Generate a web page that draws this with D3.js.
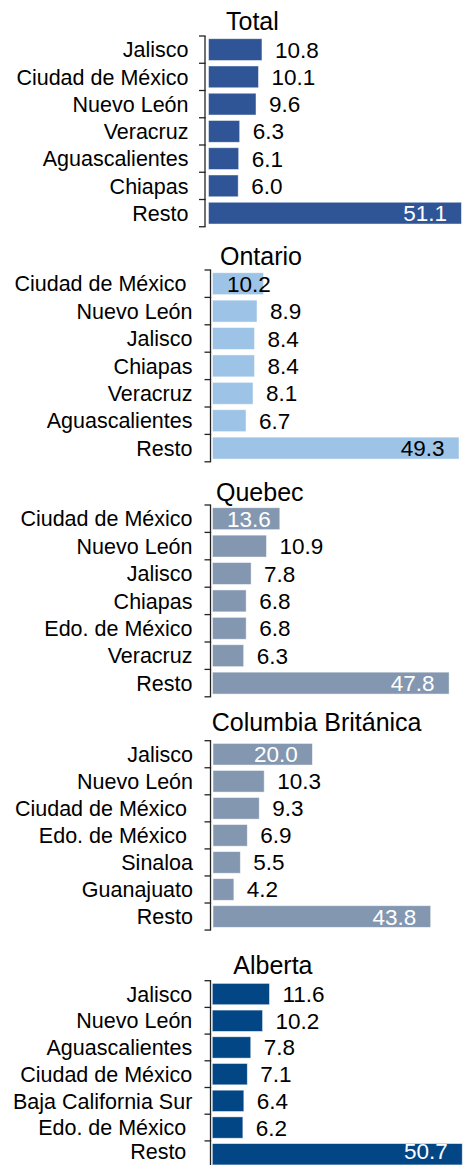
<!DOCTYPE html>
<meta charset="utf-8">
<head>
    <title>Remesas por entidad</title>
</head>
<style>
    body { margin: 0; background: #fff; }
    text { font-family: 'Liberation Sans', Arial, sans-serif; fill: #000; }
    .cat { font-size: 21.5px; text-anchor: end; white-space: pre; }
    .val { font-size: 22.5px; }
    .title { font-size: 25px; }
    .axis line { stroke: #222; stroke-width: 1.3; }
</style>
<body>
<svg id="chart" width="463" height="1165"></svg>
<script src="https://d3js.org/d3.v7.min.js"></script>
<script>
    // data (percent)
    const panelTitles = ["Total", "Ontario", "Quebec", "Columbia Británica", "Alberta"];

    const totalStates = ["Jalisco", "Ciudad de México", "Nuevo León", "Veracruz", "Aguascalientes", "Chiapas", "Resto"];
    const totalValues = [10.8, 10.1, 9.6, 6.3, 6.1, 6.0, 51.1];

    const ontarioStates = ["Ciudad de México ", "Nuevo León", "Jalisco", "Chiapas", "Veracruz", "Aguascalientes", "Resto"];
    const ontarioValues = [10.2, 8.9, 8.4, 8.4, 8.1, 6.7, 49.3];

    const quebecStates = ["Ciudad de México", "Nuevo León", "Jalisco", "Chiapas", "Edo. de México", "Veracruz", "Resto"];
    const quebecValues = [13.6, 10.9, 7.8, 6.8, 6.8, 6.3, 47.8];

    const columbiaStates = ["Jalisco", "Nuevo León", "Ciudad de México ", "Edo. de México ", "Sinaloa", "Guanajuato", "Resto"];
    const columbiaValues = [20.0, 10.3, 9.3, 6.9, 5.5, 4.2, 43.8];

    const albertaStates = ["Jalisco", "Nuevo León", "Aguascalientes", "Ciudad de México", "Baja California Sur", "Edo. de México ", "Resto "];
    const albertaValues = [11.6, 10.2, 7.8, 7.1, 6.4, 6.2, 50.7];

    // which labels sit inside the bar
    const insideLabels = [[6], [0, 6], [0, 6], [0, 6], [6]];

    const statesList = [totalStates, ontarioStates, quebecStates, columbiaStates, albertaStates];
    const valuesList = [totalValues, ontarioValues, quebecValues, columbiaValues, albertaValues];

    // layout of each panel
    const colors = ["#2F5597", "#9DC3E6", "#8497B0", "#8497B0", "#034686"];
    const insideTextColors = ["#fff", "#000", "#fff", "#fff", "#fff"];
    const layout = [
        { top: 36, step: 27.25, axisX: 205, x0: 208.5, k: 4.95, titleX: 226, titleY: 30 },
        { top: 270, step: 27.4, axisX: 210.5, x0: 212.5, k: 5.0, titleX: 220, titleY: 265 },
        { top: 505, step: 27.4, axisX: 210.5, x0: 212.5, k: 4.95, titleX: 216, titleY: 500.5 },
        { top: 740.7, step: 27.05, axisX: 210.5, x0: 213, k: 4.97, titleX: 211.7, titleY: 730.5 },
        { top: 980.7, step: 26.7, axisX: 210.5, x0: 212.3, k: 4.93, titleX: 233.3, titleY: 974 }
    ];

    const chart = d3.select("#chart");
    const chartHeight = +chart.attr("height");
    const fmt = d3.format(".1f");
    const labelGap = 13;
    const insidePad = 14.5;
    // keep the last row's text inside the picture
    const baseline = (v) => Math.min(v, chartHeight - 6);

    panelTitles.forEach((title, p) => {
        const L = layout[p];
        const states = statesList[p];
        const values = valuesList[p];
        const rows = states.map((s, i) => ({ state: s, value: values[i], i: i }));

        const y = d3.scaleBand()
            .domain(states)
            .range([L.top, L.top + states.length * L.step])
            .paddingInner(0.2)
            .paddingOuter(0.1);
        const x = d3.scaleLinear().domain([0, 100]).range([L.x0, L.x0 + 100 * L.k]);

        const g = chart.append("g").attr("class", "panel");

        g.append("text")
            .attr("class", "title")
            .attr("x", L.titleX)
            .attr("y", L.titleY)
            .text(title);

        // bars
        g.selectAll("rect")
            .data(rows)
            .enter()
            .append("rect")
            .attr("x", x(0))
            .attr("y", d => y(d.state))
            .attr("width", d => x(d.value) - x(0))
            .attr("height", y.bandwidth())
            .style("fill", colors[p])
            .style("stroke", "rgba(255,255,255,0.6)")
            .style("stroke-width", 0.8);

        // axis: line with ticks on the band edges
        const axis = g.append("g").attr("class", "axis");
        const edges = d3.range(states.length + 1).map(i => L.top + i * L.step);
        axis.append("line")
            .attr("x1", L.axisX).attr("x2", L.axisX)
            .attr("y1", edges[0]).attr("y2", edges[edges.length - 1]);
        axis.selectAll(".tick")
            .data(edges)
            .enter()
            .append("line")
            .attr("x1", L.axisX - 6).attr("x2", L.axisX + 0.6)
            .attr("y1", d => d).attr("y2", d => d);

        // category labels
        g.selectAll(".cat")
            .data(rows)
            .enter()
            .append("text")
            .attr("class", "cat")
            .attr("x", L.x0 - 20)
            .attr("y", d => baseline(y(d.state) + y.bandwidth() / 2 + 7.7))
            .text(d => d.state);

        // value labels
        g.selectAll(".val")
            .data(rows)
            .enter()
            .append("text")
            .attr("class", "val")
            .attr("y", d => baseline(y(d.state) + y.bandwidth() / 2 + 8))
            .text(d => fmt(d.value))
            .each(function (d) {
                const t = d3.select(this);
                if (insideLabels[p].includes(d.i)) {
                    const w = this.getComputedTextLength();
                    t.attr("x", Math.max(x(d.value) - insidePad - w, x(0) + insidePad))
                        .style("fill", insideTextColors[p]);
                } else {
                    t.attr("x", x(d.value) + labelGap);
                }
            });
    });
</script>
</body>
</html>
